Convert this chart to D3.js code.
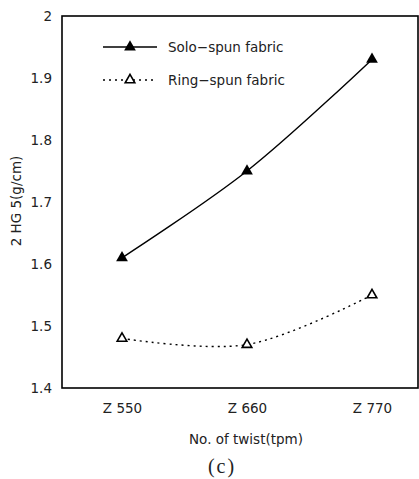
<!DOCTYPE html>
<html><head><meta charset="utf-8">
<script src="https://cdn.jsdelivr.net/npm/d3@7"></script>
<style>body{margin:0;background:#fff}svg{display:block}</style>
</head><body>
<script>
const categories = ["Z 550", "Z 660", "Z 770"];
const soloSpun = [1.61, 1.75, 1.93];
const ringSpun = [1.48, 1.47, 1.55];
const yTicks = [1.4, 1.5, 1.6, 1.7, 1.8, 1.9, 2];
const seriesNames = ["Solo\u2212spun fabric", "Ring\u2212spun fabric"];

(function () {
const W = 419, H = 479;
const svg = d3.select("body").append("svg").attr("width", W).attr("height", H);
const font = "DejaVu Sans, Verdana, sans-serif";
const fs = 13.5;
const tc = "#222";

const pL = 62, pR = 418, pT = 16, pB = 388;
const y = d3.scaleLinear().domain([1.4, 2]).range([pB, pT]);
const x = d3.scalePoint().domain(categories).range([122, 372]);

// frame
svg.append("rect").attr("x", pL).attr("y", pT).attr("width", pR - pL).attr("height", pB - pT)
  .attr("fill", "none").attr("stroke", "#000").attr("stroke-width", 1.6);

// y axis
const yAxis = d3.axisLeft(y).tickValues(yTicks).tickFormat(d3.format("")).tickSize(0).tickPadding(10);
const gy = svg.append("g").attr("transform", `translate(${pL},0)`).call(yAxis);
gy.select(".domain").remove();
gy.selectAll("text").attr("font-family", font).attr("font-size", fs).attr("fill", tc);

// x axis
const xAxis = d3.axisBottom(x).tickSize(0).tickPadding(15);
const gx = svg.append("g").attr("transform", `translate(0,${pB})`).call(xAxis);
gx.select(".domain").remove();
gx.selectAll("text").attr("font-family", font).attr("font-size", fs).attr("fill", tc);

// titles
svg.append("text").attr("x", 246).attr("y", 444).attr("text-anchor", "middle")
  .attr("font-family", font).attr("font-size", fs).attr("fill", tc).text("No. of twist(tpm)");
svg.append("text").attr("x", 222).attr("y", 473).attr("text-anchor", "middle")
  .attr("font-family", "Liberation Serif, Times New Roman, serif").attr("font-size", 20)
  .attr("letter-spacing", 2).attr("fill", tc).text("(c)");
svg.append("text").attr("transform", "translate(21,201) rotate(-90)").attr("text-anchor", "middle")
  .attr("font-family", font).attr("font-size", fs).attr("fill", tc).text("2 HG 5(g/cm)");

const line = d3.line().x((d, i) => x(categories[i])).y(d => y(d)).curve(d3.curveCatmullRom.alpha(0.5));
const tri = d3.symbol().type(d3.symbolTriangle);

// solo
svg.append("path").attr("d", line(soloSpun)).attr("fill", "none").attr("stroke", "#000").attr("stroke-width", 1.4);
svg.selectAll(".solo").data(soloSpun).enter().append("path")
  .attr("transform", (d, i) => `translate(${x(categories[i])},${y(d)})`)
  .attr("d", tri.size(60)()).attr("fill", "#000");

// ring
svg.append("path").attr("d", line(ringSpun)).attr("fill", "none").attr("stroke", "#000").attr("stroke-width", 1.4)
  .attr("stroke-dasharray", "2,4");
svg.selectAll(".ring").data(ringSpun).enter().append("path")
  .attr("transform", (d, i) => `translate(${x(categories[i])},${y(d)})`)
  .attr("d", tri.size(40)()).attr("fill", "#fff").attr("stroke", "#000").attr("stroke-width", 1.6);

// legend
const lg = svg.append("g");
lg.append("line").attr("x1", 103).attr("x2", 157).attr("y1", 47).attr("y2", 47).attr("stroke", "#000").attr("stroke-width", 1.4);
lg.append("path").attr("transform", "translate(130,47)").attr("d", tri.size(60)()).attr("fill", "#000");
lg.append("text").attr("x", 168).attr("y", 52).attr("font-family", font).attr("font-size", fs).attr("fill", tc).text(seriesNames[0]);
lg.append("line").attr("x1", 103).attr("x2", 157).attr("y1", 80).attr("y2", 80).attr("stroke", "#000").attr("stroke-width", 1.4).attr("stroke-dasharray", "2,4");
lg.append("path").attr("transform", "translate(130,80)").attr("d", tri.size(40)()).attr("fill", "#fff").attr("stroke", "#000").attr("stroke-width", 1.6);
lg.append("text").attr("x", 168).attr("y", 85).attr("font-family", font).attr("font-size", fs).attr("fill", tc).text(seriesNames[1]);
})();
</script>
</body></html>
